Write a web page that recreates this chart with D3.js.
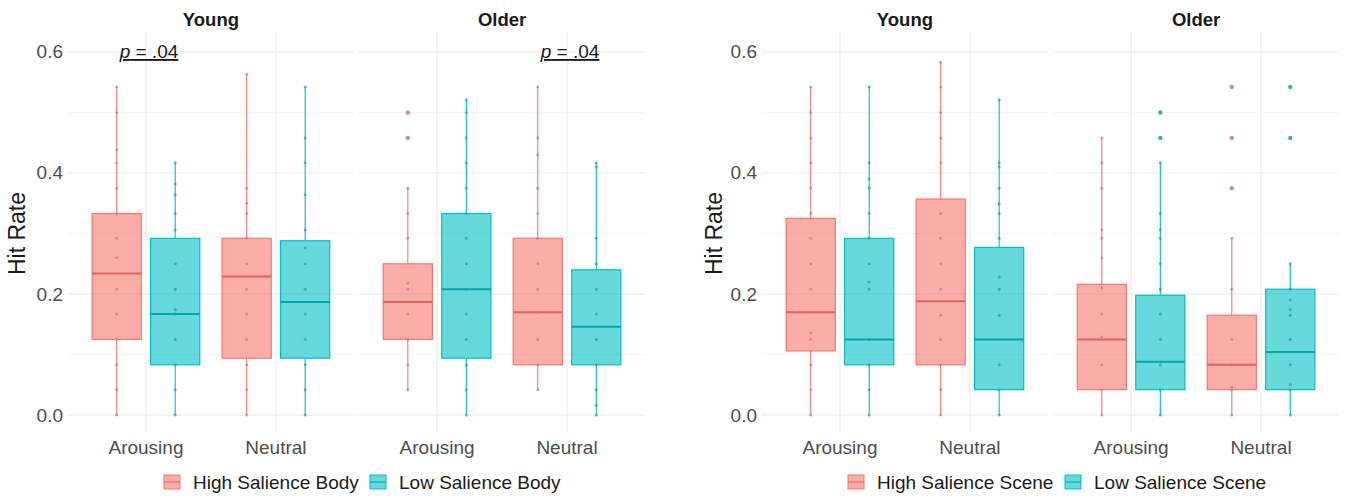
<!DOCTYPE html>
<html>
<head>
<meta charset="utf-8">
<script src="https://cdn.jsdelivr.net/npm/d3@7"></script>
<style>
  body { margin: 0; background: #fff; }
  svg text { font-family: "Liberation Sans", Arial, Helvetica, sans-serif; }
</style>
</head>
<body>
<div id="chart"></div>
<script>
const groups = ["Young", "Older"];
const conditions = ["Arousing", "Neutral"];
const bodySeries = ["High Salience Body", "Low Salience Body"];
const sceneSeries = ["High Salience Scene", "Low Salience Scene"];
const yTicks = [0, 0.2, 0.4, 0.6];
const yMinor = [0.1, 0.3, 0.5];

// box order: Young-Arousing-High, Young-Arousing-Low, Young-Neutral-High, Young-Neutral-Low,
//            Older-Arousing-High, Older-Arousing-Low, Older-Neutral-High, Older-Neutral-Low
const bodyLower  = [0, 0, 0, 0, 0.042, 0, 0.042, 0];
const bodyQ1     = [0.125, 0.083, 0.094, 0.094, 0.125, 0.094, 0.083, 0.083];
const bodyMedian = [0.234, 0.167, 0.229, 0.187, 0.187, 0.208, 0.170, 0.146];
const bodyQ3     = [0.333, 0.292, 0.292, 0.288, 0.250, 0.333, 0.292, 0.240];
const bodyUpper  = [0.542, 0.417, 0.563, 0.542, 0.375, 0.521, 0.542, 0.417];
const bodyOutliers = [[], [], [], [], [0.5, 0.458], [], [], []];
const bodyPoints = [
  [0.542, 0.5, 0.438, 0.417, 0.375, 0.333, 0.292, 0.26, 0.208, 0.167, 0.125, 0.083, 0.042, 0],
  [0.417, 0.382, 0.364, 0.333, 0.306, 0.25, 0.208, 0.174, 0.167, 0.125, 0.083, 0.042, 0],
  [0.563, 0.375, 0.35, 0.333, 0.292, 0.25, 0.208, 0.167, 0.125, 0.083, 0.042, 0],
  [0.542, 0.458, 0.417, 0.364, 0.306, 0.276, 0.25, 0.208, 0.167, 0.125, 0.083, 0.042, 0],
  [0.375, 0.333, 0.292, 0.218, 0.208, 0.167, 0.125, 0.083, 0.042],
  [0.521, 0.5, 0.458, 0.417, 0.375, 0.333, 0.292, 0.25, 0.208, 0.167, 0.125, 0.083, 0.042, 0],
  [0.542, 0.458, 0.43, 0.375, 0.333, 0.292, 0.25, 0.208, 0.17, 0.125, 0.083, 0.042],
  [0.417, 0.41, 0.292, 0.25, 0.208, 0.167, 0.125, 0.083, 0.042, 0.016, 0]
];

const sceneLower  = [0, 0, 0, 0, 0, 0, 0, 0];
const sceneQ1     = [0.106, 0.083, 0.083, 0.042, 0.042, 0.042, 0.042, 0.042];
const sceneMedian = [0.170, 0.125, 0.188, 0.125, 0.125, 0.088, 0.083, 0.104];
const sceneQ3     = [0.325, 0.292, 0.357, 0.277, 0.216, 0.198, 0.165, 0.208];
const sceneUpper  = [0.542, 0.542, 0.583, 0.521, 0.458, 0.417, 0.292, 0.25];
const sceneOutliers = [[], [], [], [], [], [0.5, 0.458], [0.542, 0.458, 0.375], [0.542, 0.458]];
const scenePoints = [
  [0.542, 0.5, 0.458, 0.417, 0.375, 0.333, 0.292, 0.25, 0.208, 0.17, 0.136, 0.125, 0.083, 0.042, 0],
  [0.542, 0.417, 0.39, 0.375, 0.333, 0.292, 0.25, 0.22, 0.208, 0.125, 0.083, 0.042, 0],
  [0.583, 0.542, 0.5, 0.458, 0.417, 0.333, 0.292, 0.25, 0.208, 0.165, 0.125, 0.083, 0.042, 0],
  [0.521, 0.417, 0.41, 0.375, 0.349, 0.333, 0.292, 0.228, 0.208, 0.165, 0.083, 0.042, 0],
  [0.458, 0.417, 0.375, 0.306, 0.292, 0.26, 0.21, 0.167, 0.129, 0.083, 0.042, 0],
  [0.417, 0.333, 0.306, 0.292, 0.25, 0.208, 0.167, 0.125, 0.083, 0.042, 0],
  [0.292, 0.208, 0.125, 0.083, 0.046, 0.042, 0],
  [0.25, 0.208, 0.19, 0.174, 0.165, 0.125, 0.083, 0.05, 0.042, 0]
];

// p-value notes on the body chart
const noteGroups = ["Young", "Older"];
const noteConds = ["Arousing", "Neutral"];
const noteValues = [0.6, 0.6];

const fills = ["#F8766D", "#00BFC4"];
const pointCols = ["#c27a80", "#1f9ea0"];

const W = 1350, H = 498;
const svg = d3.select("#chart").append("svg")
  .attr("width", W).attr("height", H);

const y = d3.scaleLinear().domain([-0.028, 0.633]).range([432, 32]);

function drawChart(opt) {
  const g = svg.append("g");
  const panel = d3.scaleBand().domain(groups).range([opt.left, opt.right]).paddingInner(0.018);
  const bw = panel.bandwidth();
  const x = d3.scalePoint().domain(conditions).range([0, bw]).padding(0.6);
  const dodge = d3.scaleBand().domain(opt.series).range([-58.5, 58.5]);
  const boxW = dodge.bandwidth() * 0.84;

  groups.forEach(function(grp) {
    const p = g.append("g").attr("transform", "translate(" + panel(grp) + ",0)");

    // grid
    p.selectAll(".minor").data(yMinor).enter().append("line")
      .attr("x1", 0).attr("x2", bw)
      .attr("y1", d => y(d)).attr("y2", d => y(d))
      .attr("stroke", "#f5f5f5").attr("stroke-width", 1);
    p.selectAll(".major").data(yTicks).enter().append("line")
      .attr("x1", 0).attr("x2", bw)
      .attr("y1", d => y(d)).attr("y2", d => y(d))
      .attr("stroke", "#eeeeee").attr("stroke-width", 1.2);
    p.selectAll(".vgrid").data(conditions).enter().append("line")
      .attr("x1", d => x(d)).attr("x2", d => x(d))
      .attr("y1", y.range()[1]).attr("y2", y.range()[0])
      .attr("stroke", "#eeeeee").attr("stroke-width", 1.2);

    // facet title
    p.append("text")
      .attr("x", bw / 2).attr("y", 26)
      .attr("text-anchor", "middle")
      .attr("font-size", 18.5).attr("font-weight", "bold").attr("fill", "#1a1a1a")
      .text(grp);

    // x labels
    p.selectAll(".xl").data(conditions).enter().append("text")
      .attr("x", d => x(d)).attr("y", 453.5)
      .attr("text-anchor", "middle")
      .attr("font-size", 19).attr("fill", "#4d4d4d")
      .text(d => d);

    conditions.forEach(function(cond) {
      opt.series.forEach(function(s, si) {
        const i = groups.indexOf(grp) * 4 + conditions.indexOf(cond) * 2 + si;
        const cx = x(cond) + dodge(s) + dodge.bandwidth() / 2;
        const bx = p.append("g");

        bx.append("line")
          .attr("x1", cx).attr("x2", cx)
          .attr("y1", y(opt.lower[i])).attr("y2", y(opt.q1[i]))
          .attr("stroke", fills[si]).attr("stroke-width", 1.1);
        bx.append("line")
          .attr("x1", cx).attr("x2", cx)
          .attr("y1", y(opt.q3[i])).attr("y2", y(opt.upper[i]))
          .attr("stroke", fills[si]).attr("stroke-width", 1.1);
        bx.append("rect")
          .attr("x", cx - boxW / 2).attr("width", boxW)
          .attr("y", y(opt.q3[i])).attr("height", y(opt.q1[i]) - y(opt.q3[i]))
          .attr("fill", fills[si]).attr("fill-opacity", 0.6)
          .attr("stroke", fills[si]).attr("stroke-width", 1.2);
        bx.append("line")
          .attr("x1", cx - boxW / 2).attr("x2", cx + boxW / 2)
          .attr("y1", y(opt.median[i])).attr("y2", y(opt.median[i]))
          .attr("stroke", d3.color(fills[si]).darker(0.4)).attr("stroke-width", 2);

        bx.selectAll(".pt").data(opt.points[i]).enter().append("circle")
          .attr("cx", cx).attr("cy", d => y(d)).attr("r", 1.5)
          .attr("fill", pointCols[si]).attr("fill-opacity", 0.7);
        bx.selectAll(".out").data(opt.outliers[i]).enter().append("circle")
          .attr("cx", cx).attr("cy", d => y(d)).attr("r", 2.2)
          .attr("fill", pointCols[si]).attr("fill-opacity", 0.85);
      });
    });

    if (opt.notes) {
      noteGroups.forEach(function(ng, k) {
        if (ng !== grp) return;
        const t = p.append("text")
          .attr("x", x(noteConds[k]) + 3).attr("y", y(noteValues[k]) + 6)
          .attr("text-anchor", "middle")
          .attr("font-size", 19).attr("fill", "#1a1a1a")
          .attr("text-decoration", "underline");
        t.append("tspan").attr("font-style", "italic").text("p");
        t.append("tspan").text(" = .04");
      });
    }
  });

  // y axis labels
  g.selectAll(".yl").data(yTicks).enter().append("text")
    .attr("x", opt.left - 5).attr("y", d => y(d) + 6.5)
    .attr("text-anchor", "end")
    .attr("font-size", 19).attr("fill", "#4d4d4d")
    .text(d => d3.format(".1f")(d));

  g.append("text")
    .attr("transform", "translate(" + opt.titleX + "," + y(0.3) + ") rotate(-90)")
    .attr("text-anchor", "middle")
    .attr("font-size", 23).attr("fill", "#1a1a1a")
    .text("Hit Rate");

  // legend
  const lg = g.append("g");
  opt.series.forEach(function(s, si) {
    const kx = opt.legendX[si];
    lg.append("rect")
      .attr("x", kx).attr("y", 475).attr("width", 16).attr("height", 14)
      .attr("fill", fills[si]).attr("fill-opacity", 0.6)
      .attr("stroke", fills[si]).attr("stroke-width", 1);
    lg.append("line")
      .attr("x1", kx).attr("x2", kx + 16).attr("y1", 482).attr("y2", 482)
      .attr("stroke", d3.color(fills[si]).darker(0.4)).attr("stroke-width", 1);
    lg.append("text")
      .attr("x", kx + 29).attr("y", 489)
      .attr("font-size", 19).attr("fill", "#1a1a1a")
      .text(s);
  });
}

drawChart({
  left: 68, right: 645, titleX: 25, series: bodySeries,
  lower: bodyLower, q1: bodyQ1, median: bodyMedian, q3: bodyQ3, upper: bodyUpper,
  points: bodyPoints, outliers: bodyOutliers, notes: true,
  legendX: [164, 370]
});

drawChart({
  left: 762, right: 1339, titleX: 722, series: sceneSeries,
  lower: sceneLower, q1: sceneQ1, median: sceneMedian, q3: sceneQ3, upper: sceneUpper,
  points: scenePoints, outliers: sceneOutliers, notes: false,
  legendX: [848, 1065]
});
</script>
</body>
</html>
